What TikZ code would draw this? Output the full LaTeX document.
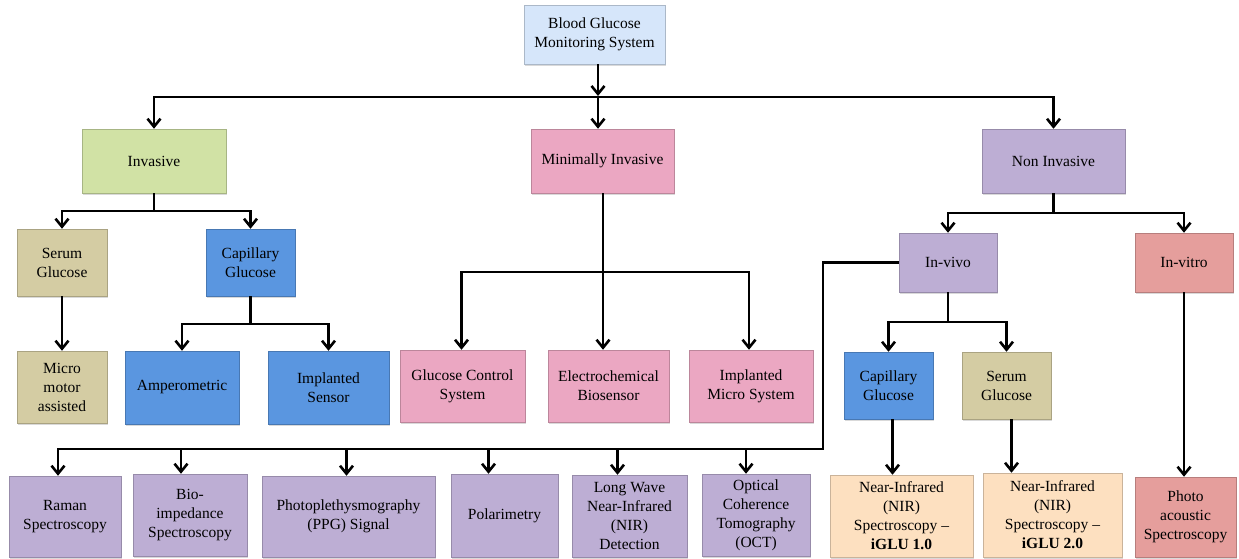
\documentclass[tikz,border=0pt]{standalone}
\usepackage{fontspec}
\setmainfont{Liberation Serif}
\usepackage{xcolor}
\definecolor{rootblue}{RGB}{214,230,250}
\definecolor{invgreen}{RGB}{209,226,165}
\definecolor{minpink}{RGB}{235,167,194}
\definecolor{nonpurple}{RGB}{189,174,212}
\definecolor{serumtan}{RGB}{212,204,163}
\definecolor{capblue}{RGB}{90,150,224}
\definecolor{vitrored}{RGB}{229,158,156}
\definecolor{nirpeach}{RGB}{253,224,192}
\usetikzlibrary{arrows.meta,shadows}

\tikzset{
  box/.style={draw=#1!80!black, fill=#1, line width=0.5pt, align=center, inner sep=2pt,
    font=\fontsize{15.5}{19}\selectfont,
    drop shadow={shadow xshift=1.2pt, shadow yshift=-1.5pt, opacity=0.3}},
  sz/.style 2 args={minimum width=#1pt, minimum height=#2pt},
  conn/.style={line width=2.8pt},
  arr/.style={conn, -{Straight Barb[length=8pt, width=13pt, line width=2.6pt]}}
}

\begin{document}
\begin{tikzpicture}[x=1pt, y=-1pt]
  \useasboundingbox (0,0) rectangle (1239,558);

  % Top level
  \node[box=rootblue, sz={141}{59}] (root) at (594.5,34.5) {Blood Glucose\\Monitoring System};
  \node[box=invgreen, sz={144}{64}] (inv) at (154,161) {Invasive};
  \node[box=minpink, sz={143}{64}] (mininv) at (602.5,161) {Minimally Invasive};
  \node[box=nonpurple, sz={143}{64}] (noninv) at (1053.5,161) {Non Invasive};

  % Invasive branch
  \node[box=serumtan, sz={90}{67}] (serum1) at (62,262.5) {Serum\\Glucose};
  \node[box=capblue, sz={89}{67}] (cap1) at (250.5,262.5) {Capillary\\Glucose};
  \node[box=serumtan, sz={90}{72}] (micro) at (62,387) {Micro\\motor\\assisted};
  \node[box=capblue, sz={114}{73}] (amp) at (182,387.5) {Amperometric};
  \node[box=capblue, sz={121}{73}] (impl) at (328.5,387.5) {Implanted\\Sensor};

  % Minimally invasive branch
  \node[box=minpink, sz={125}{72}] (gcs) at (462.5,386) {Glucose Control\\System};
  \node[box=minpink, sz={121}{72}] (ecb) at (608.5,386) {Electrochemical\\Biosensor};
  \node[box=minpink, sz={124}{72}] (ims) at (751,386) {Implanted\\Micro System};

  % Non invasive branch
  \node[box=nonpurple, sz={98}{59}] (invivo) at (948,262.5) {In-vivo};
  \node[box=vitrored, sz={98}{59}] (invitro) at (1184,262.5) {In-vitro};
  \node[box=capblue, sz={89}{67}] (cap2) at (888.5,385.5) {Capillary\\Glucose};
  \node[box=serumtan, sz={89}{67}] (serum2) at (1006.5,385.5) {Serum\\Glucose};

  % Bottom row
  \node[box=nonpurple, sz={112}{81}] (raman) at (65,516.5) {Raman\\Spectroscopy};
  \node[box=nonpurple, sz={114}{82}] (bio) at (190,515) {Bio-\\impedance\\Spectroscopy};
  \node[box=nonpurple, sz={173}{81}] (ppg) at (348.5,516.5) {Photoplethysmography\\(PPG) Signal};
  \node[box=nonpurple, sz={107}{83}] (pol) at (504.5,515.5) {Polarimetry};
  \node[box=nonpurple, sz={115}{82}] (lwnir) at (629.5,516) {Long Wave\\Near-Infrared\\(NIR)\\Detection};
  \node[box=nonpurple, sz={108}{82}] (oct) at (756,515) {Optical\\Coherence\\Tomography\\(OCT)};
  \node[box=nirpeach, sz={143}{82}] (nir1) at (901.5,516) {Near-Infrared\\(NIR)\\Spectroscopy --\\\textbf{iGLU 1.0}};
  \node[box=nirpeach, sz={139}{84}] (nir2) at (1052.5,515) {Near-Infrared\\(NIR)\\Spectroscopy --\\\textbf{iGLU 2.0}};
  \node[box=vitrored, sz={101}{80}] (photo) at (1185.5,517) {Photo\\acoustic\\Spectroscopy};

  % Connectors
  \coordinate (b1) at (598,97);
  \coordinate (b2) at (154,211);
  \coordinate (b3) at (250.5,324);
  \coordinate (b4) at (603,272);
  \coordinate (b5) at (1053.5,213);
  \coordinate (b6) at (948,322);
  \coordinate (b7) at (823,449);

  \draw[arr, shorten >=1pt] (root.south -| b1) -- (b1);
  \draw[arr] (b1) -| (inv.north);
  \draw[arr] (b1) -- (mininv.north -| b1);
  \draw[arr] (b1) -| (noninv.north);

  \draw[conn] (inv) -- (b2);
  \draw[arr] (b2) -| (serum1.north);
  \draw[arr] (b2) -| (cap1.north);
  \draw[arr] (serum1) -- (micro);
  \draw[conn] (cap1) -- (b3);
  \draw[arr] (b3) -| (amp.north);
  \draw[arr] (b3) -| (impl.north);

  \draw[conn] (mininv.south -| b4) -- (b4);
  \draw[arr] (b4) -| ([xshift=-1pt]gcs.north);
  \draw[arr] (b4) -- (ecb.north -| b4);
  \draw[arr] (b4) -| ([xshift=-2pt]ims.north);

  \draw[conn] (noninv) -- (b5);
  \draw[arr] (b5) -| (invivo.north);
  \draw[arr] (b5) -| (invitro.north);
  \draw[conn] (invivo) -- (b6);
  \draw[arr] (b6) -| (cap2.north);
  \draw[arr] (b6) -| (serum2.north);
  \draw[arr] ([xshift=4pt]cap2.south) -- ([xshift=4pt]cap2.south |- nir1.north);
  \draw[arr] ([xshift=5pt]serum2.south) -- ([xshift=5pt]serum2.south |- nir2.north);
  \draw[arr] (invitro) -- (invitro.south |- photo.north);

  \draw[arr] (invivo.west) -| (b7) -| ([xshift=-7pt]raman.north);
  \foreach \n/\dx in {bio/-9, ppg/-2, pol/-16, lwnir/-12, oct/-10}
    \draw[arr] ([xshift=\dx pt]\n.north |- b7) -- ([xshift=\dx pt]\n.north);
\end{tikzpicture}
\end{document}
